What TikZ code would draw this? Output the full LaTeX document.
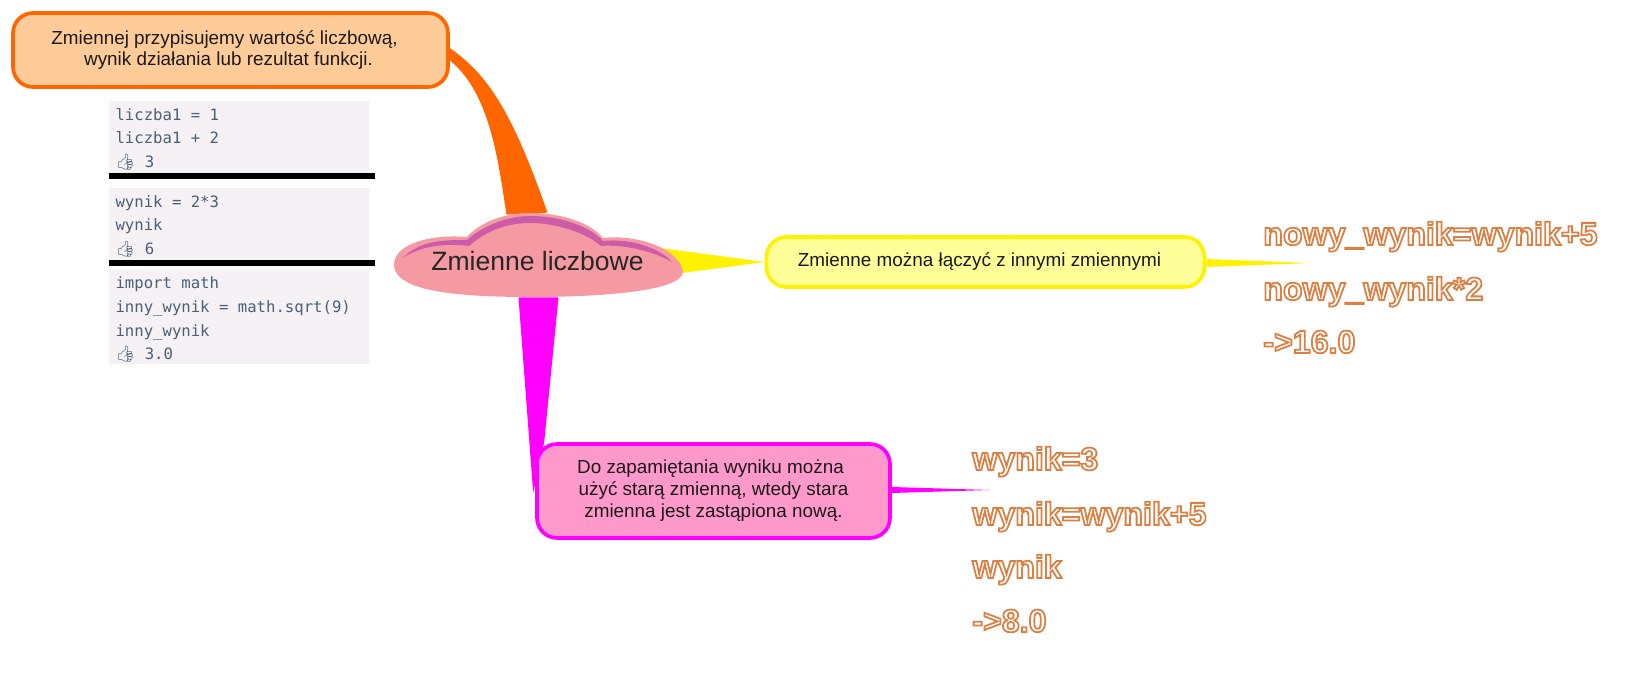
\documentclass[tikz,border=0pt]{standalone}
\usepackage{fontspec}
\setmainfont{Liberation Sans}
\newfontfamily\codefont{DejaVu Sans Mono}
\newfontfamily\emojifont{Noto Emoji}
\newfontfamily\glowfont[FakeBold=5.5]{Liberation Sans Bold}
\usetikzlibrary{calc,backgrounds}
\definecolor{boxorange}{HTML}{FF6600}
\definecolor{boxpink}{HTML}{FF00FF}
\definecolor{fillorange}{HTML}{FFCC99}
\definecolor{fillyellow}{HTML}{FFFF99}
\definecolor{fillpink}{HTML}{FF99CC}
\definecolor{cloudpink}{HTML}{F59AA3}
\definecolor{cloudtop}{HTML}{CC5CA8}
\definecolor{codebg}{HTML}{F6F1F4}
\definecolor{codetext}{HTML}{4A6075}
\newcommand{\thumb}{{\emojifont\char"1F44D}}
\newcommand{\codesp}{\spaceskip=5.36pt\relax}
\newcommand{\glow}[1]{\special{pdf:bcolor [1 1 1] [.86 .5 .26]}{\fontsize{18.3}{20}\glowfont #1}\special{pdf:ecolor}}
\tikzset{
	idea/.style={draw, line width=2.1pt, rounded corners=.4cm, align=center, inner sep=0pt, text=black!90, font=\fontsize{10.75}{12.5}\selectfont},
	code/.style={fill=codebg, inner xsep=.13cm, inner ysep=0pt, text width=4.94cm, text height=11pt, text=codetext, font=\fontsize{8.9}{13.4}\codefont},
	rule/.style={line width=3.4pt, black},
	result/.style={anchor=base west, inner sep=0pt}
}
\begin{document}
\begin{tikzpicture}[x=.02cm, y=-.02cm]
	\useasboundingbox (0,0) rectangle (1641,685);
	\node (0) [minimum width=5.78cm, minimum height=1.68cm, inner sep=0pt] at (538.5,255) {};
	\fill [cloudpink] (394,263) .. controls (396,244) and (430,234) .. (467,237) .. controls (480,222) and (505,213) .. (530,213) .. controls (560,213) and (590,222) .. (603,238) .. controls (640,234) and (680,250) .. (683,272) .. controls (682,290) and (610,297) .. (530,297) .. controls (450,297) and (392,290) .. (394,263) -- cycle;
	\fill [cloudtop] (403,258) .. controls (420,240) and (445,240) .. (467,240) .. controls (485,224) and (510,216) .. (530,216) .. controls (560,216) and (590,226) .. (603,241) .. controls (630,238) and (660,248) .. (672,262) .. controls (655,252) and (625,244) .. (601,246) .. controls (585,232) and (555,223) .. (530,223) .. controls (505,223) and (485,232) .. (469,246) .. controls (445,243) and (420,246) .. (403,258) -- cycle;
	\node (16) at (537.5,261) [font=\fontsize{15.1}{18}\selectfont, text=black!85] {Zmienne liczbowe};
	\node (1) [idea, draw=boxorange, fill=fillorange, minimum width=8.7cm, minimum height=1.48cm] at (230.5,50) {Zmiennej przypisujemy wartość liczbową,\hspace*{.24cm}\\wynik działania lub rezultat funkcji.\hspace*{.08cm}};
	\node (2) [idea, draw=yellow, fill=fillyellow, minimum width=8.76cm, minimum height=1cm] at (985.5,262) {Zmienne można łączyć z innymi zmiennymi\hspace*{.24cm}};
	\node (3) [idea, draw=boxpink, fill=fillpink, minimum width=7.06cm, minimum height=1.88cm] at (713.5,491) {Do zapamiętania wyniku można\hspace*{.12cm}\\użyć starą zmienną, wtedy stara\hspace*{.12cm}\\zmienna jest zastąpiona nową.};
	\node (4) [code, text depth=30pt] at (239,137) {\codesp liczba1 = 1\\liczba1 + 2\\\thumb{} 3};
	\node (5) [code, text depth=30pt] at (239,224) {\codesp wynik = 2*3\\wynik\\\thumb{} 6};
	\node (6) [code, text height=10.8pt, text depth=42.7pt] at (239,317) {\codesp import math\\inny\_wynik = math.sqrt(9)\\inny\_wynik\\\thumb{} 3.0};
	\node (7) [result] at (1263,245) {\glow{nowy\_wynik=wynik+5}};
	\node (8) [result] at (1263,300) {\glow{nowy\_wynik*2}};
	\node (9) [result] at (1263,353) {\glow{->16.0}};
	\node (10) [result] at (972,470) {\glow{wynik=3}};
	\node (11) [result] at (972,525) {\glow{wynik=wynik+5}};
	\node (12) [result] at (972,578) {\glow{wynik}};
	\node (13) [result] at (972,632) {\glow{->8.0}};
	\coordinate (14) at (1311,263);
	\coordinate (15) at (990,490);
	\draw [rule] ($(4.south west)+(0,3)$) -- ($(4.south east)+(6,3)$);
	\draw [rule] ($(5.south west)+(0,3)$) -- ($(5.south east)+(6,3)$);
	\begin{pgfonlayer}{background}
		\fill [boxorange] ($(1.east)+(-3,-4)$) .. controls (485,72) and (510,105) .. ($(0.north)+(9,0)$) -- ($(0.north)+(-32,2)$) .. controls (498,160) and (490,90) .. ($(1.east)+(-3,8)$) -- cycle;
		\fill [yellow] ($(0.east)+(-23,-7)$) -- (2.west) -- ($(0.east)+(-1,18)$) -- cycle;
		\fill [yellow] ($(2.east)+(0,-3)$) -- (14) -- ($(2.east)+(0,5)$) -- cycle;
		\fill [boxpink] ($(0.south)+(-20,0)$) -- ($(0.south)+(20,0)$) -- ($(3.north west)+(9,0)$) -- ($(3.west)+(-2,2)$) -- cycle;
		\fill [boxpink] ($(3.east)+(0,-4)$) -- (15) -- ($(3.east)+(0,2)$) -- cycle;
	\end{pgfonlayer}
\end{tikzpicture}
\end{document}
